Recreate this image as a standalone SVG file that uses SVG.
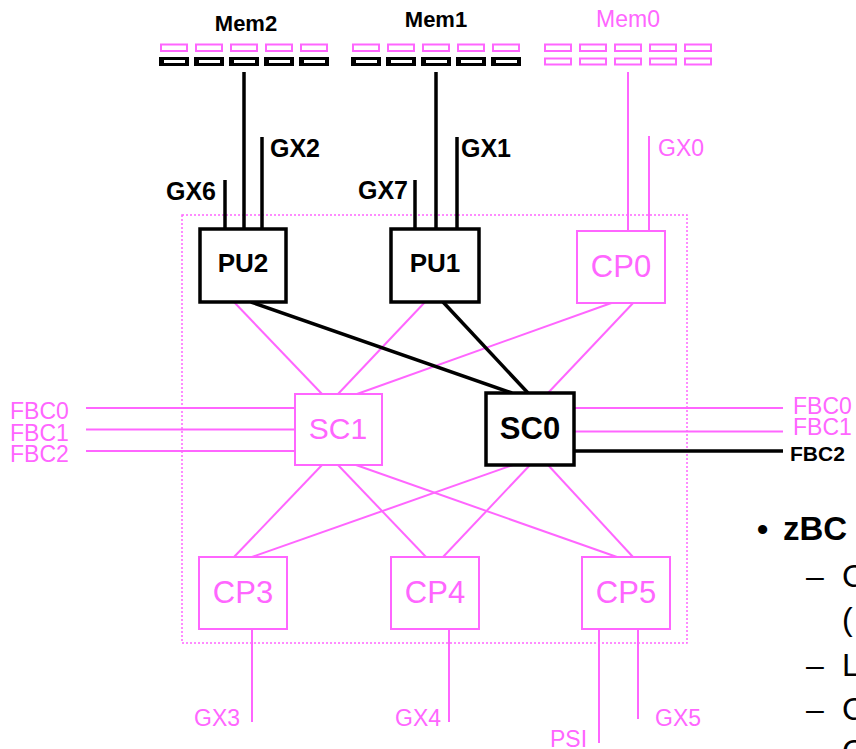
<svg xmlns="http://www.w3.org/2000/svg" width="856" height="749" viewBox="0 0 856 749">
<style>
text{font-family:"Liberation Sans",Arial,sans-serif}
.p{fill:#ff66ff}
.b{fill:#000;font-weight:bold}
.pl{stroke:#ff66ff;stroke-width:2;fill:none}
.bl{stroke:#000;stroke-width:3.5;fill:none}
.pn{fill:#fff;stroke:#ff66ff;stroke-width:2}
.bn{fill:#fff;stroke:#000;stroke-width:3.5}
.mp{fill:none;stroke:#ff66ff;stroke-width:2}
</style>
<defs>
<g id="pinkbox"><rect x="1" y="44.5" width="26" height="6.5" class="mp"/></g>
<g id="blackbox"><rect x="-1" y="57" width="30" height="9" fill="#000"/><rect x="4" y="60" width="21" height="3" fill="#fff"/></g>
<g id="pinkbox2"><rect x="1" y="58.5" width="26" height="6" class="mp"/></g>
</defs>
<rect x="182" y="215" width="505" height="428" fill="none" stroke="#ff66ff" stroke-width="1.5" stroke-dasharray="2,2"/>
<g id="connectors">
<line class="bl" x1="244" y1="72" x2="244" y2="229"/>
<line class="bl" x1="225" y1="180" x2="225" y2="229"/>
<line class="bl" x1="262" y1="137" x2="262" y2="229"/>
<line class="bl" x1="436" y1="72" x2="436" y2="229"/>
<line class="bl" x1="415" y1="180" x2="415" y2="229"/>
<line class="bl" x1="457" y1="137" x2="457" y2="229"/>
<line class="pl" x1="628" y1="72" x2="628" y2="231"/>
<line class="pl" x1="649" y1="136" x2="649" y2="231"/>
<line class="pl" x1="233" y1="301" x2="322" y2="394"/>
<line class="pl" x1="426" y1="301" x2="338" y2="394"/>
<line class="pl" x1="617" y1="301" x2="357" y2="394"/>
<line class="pl" x1="635" y1="301" x2="547" y2="394"/>
<line class="bl" x1="251" y1="302" x2="512" y2="393"/>
<line class="bl" x1="443" y1="302" x2="528" y2="393"/>
<line class="pl" x1="86" y1="408" x2="295" y2="408"/>
<line class="pl" x1="86" y1="429.5" x2="295" y2="429.5"/>
<line class="pl" x1="86" y1="451" x2="295" y2="451"/>
<line class="pl" x1="574" y1="408" x2="783" y2="408"/>
<line class="pl" x1="574" y1="431.5" x2="783" y2="431.5"/>
<line class="bl" x1="574" y1="451" x2="783" y2="451"/>
<line class="pl" x1="322" y1="465" x2="234" y2="557"/>
<line class="pl" x1="338" y1="465" x2="426" y2="557"/>
<line class="pl" x1="356" y1="465" x2="617" y2="557"/>
<line class="pl" x1="513" y1="465" x2="252" y2="557"/>
<line class="pl" x1="530" y1="465" x2="443" y2="557"/>
<line class="pl" x1="548" y1="465" x2="633" y2="557"/>
<line class="pl" x1="252" y1="629" x2="252" y2="722"/>
<line class="pl" x1="449" y1="629" x2="449" y2="722"/>
<line class="pl" x1="599" y1="629" x2="599" y2="743"/>
<line class="pl" x1="638" y1="629" x2="638" y2="719"/>
</g>
<g id="mem2">
<use href="#pinkbox" x="160"/><use href="#pinkbox" x="195"/><use href="#pinkbox" x="230"/><use href="#pinkbox" x="265"/><use href="#pinkbox" x="300"/>
<use href="#blackbox" x="160"/><use href="#blackbox" x="195"/><use href="#blackbox" x="230"/><use href="#blackbox" x="265"/><use href="#blackbox" x="300"/>
<text class="b" x="246" y="31" font-size="22" text-anchor="middle">Mem2</text>
</g>
<g id="mem1">
<use href="#pinkbox" x="352"/><use href="#pinkbox" x="387"/><use href="#pinkbox" x="422"/><use href="#pinkbox" x="457"/><use href="#pinkbox" x="492"/>
<use href="#blackbox" x="352"/><use href="#blackbox" x="387"/><use href="#blackbox" x="422"/><use href="#blackbox" x="457"/><use href="#blackbox" x="492"/>
<text class="b" x="436" y="27" font-size="22" text-anchor="middle">Mem1</text>
</g>
<g id="mem0">
<use href="#pinkbox" x="544"/><use href="#pinkbox" x="579"/><use href="#pinkbox" x="614"/><use href="#pinkbox" x="649"/><use href="#pinkbox" x="684"/>
<use href="#pinkbox2" x="544"/><use href="#pinkbox2" x="579"/><use href="#pinkbox2" x="614"/><use href="#pinkbox2" x="649"/><use href="#pinkbox2" x="684"/>
<text class="p" x="628" y="27" font-size="23" text-anchor="middle">Mem0</text>
</g>
<g id="gx-labels">
<text class="b" x="216" y="200" font-size="25" text-anchor="end">GX6</text>
<text class="b" x="270" y="157" font-size="25">GX2</text>
<text class="b" x="408" y="199" font-size="25" text-anchor="end">GX7</text>
<text class="b" x="461" y="157" font-size="25">GX1</text>
<text class="p" x="658" y="156" font-size="23">GX0</text>
<text class="p" x="194" y="726" font-size="23">GX3</text>
<text class="p" x="395" y="726" font-size="23">GX4</text>
<text class="p" x="550" y="747" font-size="23">PSI</text>
<text class="p" x="655" y="726" font-size="23">GX5</text>
</g>
<g id="pu2"><rect class="bn" x="200" y="229" width="86" height="73"/><text class="b" x="243" y="272" font-size="26" text-anchor="middle">PU2</text></g>
<g id="pu1"><rect class="bn" x="391" y="229" width="88" height="73"/><text class="b" x="435" y="272" font-size="26" text-anchor="middle">PU1</text></g>
<g id="cp0"><rect class="pn" x="577" y="231" width="88" height="72"/><text class="p" x="621" y="277" font-size="31" text-anchor="middle">CP0</text></g>
<g id="sc1"><rect class="pn" x="295" y="394" width="87" height="71"/><text class="p" x="338" y="439" font-size="30" text-anchor="middle">SC1</text></g>
<g id="sc0"><rect class="bn" x="486" y="393" width="88" height="72"/><text class="b" x="530" y="439" font-size="31" text-anchor="middle">SC0</text></g>
<g id="cp3"><rect class="pn" x="199" y="557" width="88" height="72"/><text class="p" x="243" y="603" font-size="31" text-anchor="middle">CP3</text></g>
<g id="cp4"><rect class="pn" x="391" y="557" width="88" height="72"/><text class="p" x="435" y="603" font-size="31" text-anchor="middle">CP4</text></g>
<g id="cp5"><rect class="pn" x="582" y="557" width="88" height="72"/><text class="p" x="626" y="603" font-size="31" text-anchor="middle">CP5</text></g>
<g id="fbc-labels">
<text class="p" x="10" y="419" font-size="23">FBC0</text>
<text class="p" x="10" y="441" font-size="23">FBC1</text>
<text class="p" x="10" y="462" font-size="23">FBC2</text>
<text class="p" x="793" y="414" font-size="23">FBC0</text>
<text class="p" x="793" y="435" font-size="23">FBC1</text>
<text class="b" x="790" y="461" font-size="21">FBC2</text>
</g>
<g id="bullets">
<text class="b" x="757" y="540" font-size="32">•</text>
<text class="b" x="783" y="540" font-size="33">zBC</text>
<text x="806" y="587" font-size="32">–</text><text x="842" y="587" font-size="32">C</text>
<text x="842" y="630" font-size="32">(</text>
<text x="806" y="676" font-size="32">–</text><text x="842" y="676" font-size="32">L</text>
<text x="806" y="720" font-size="32">–</text><text x="842" y="720" font-size="32">C</text>
<text x="842" y="762" font-size="32">C</text>
</g>
</svg>
